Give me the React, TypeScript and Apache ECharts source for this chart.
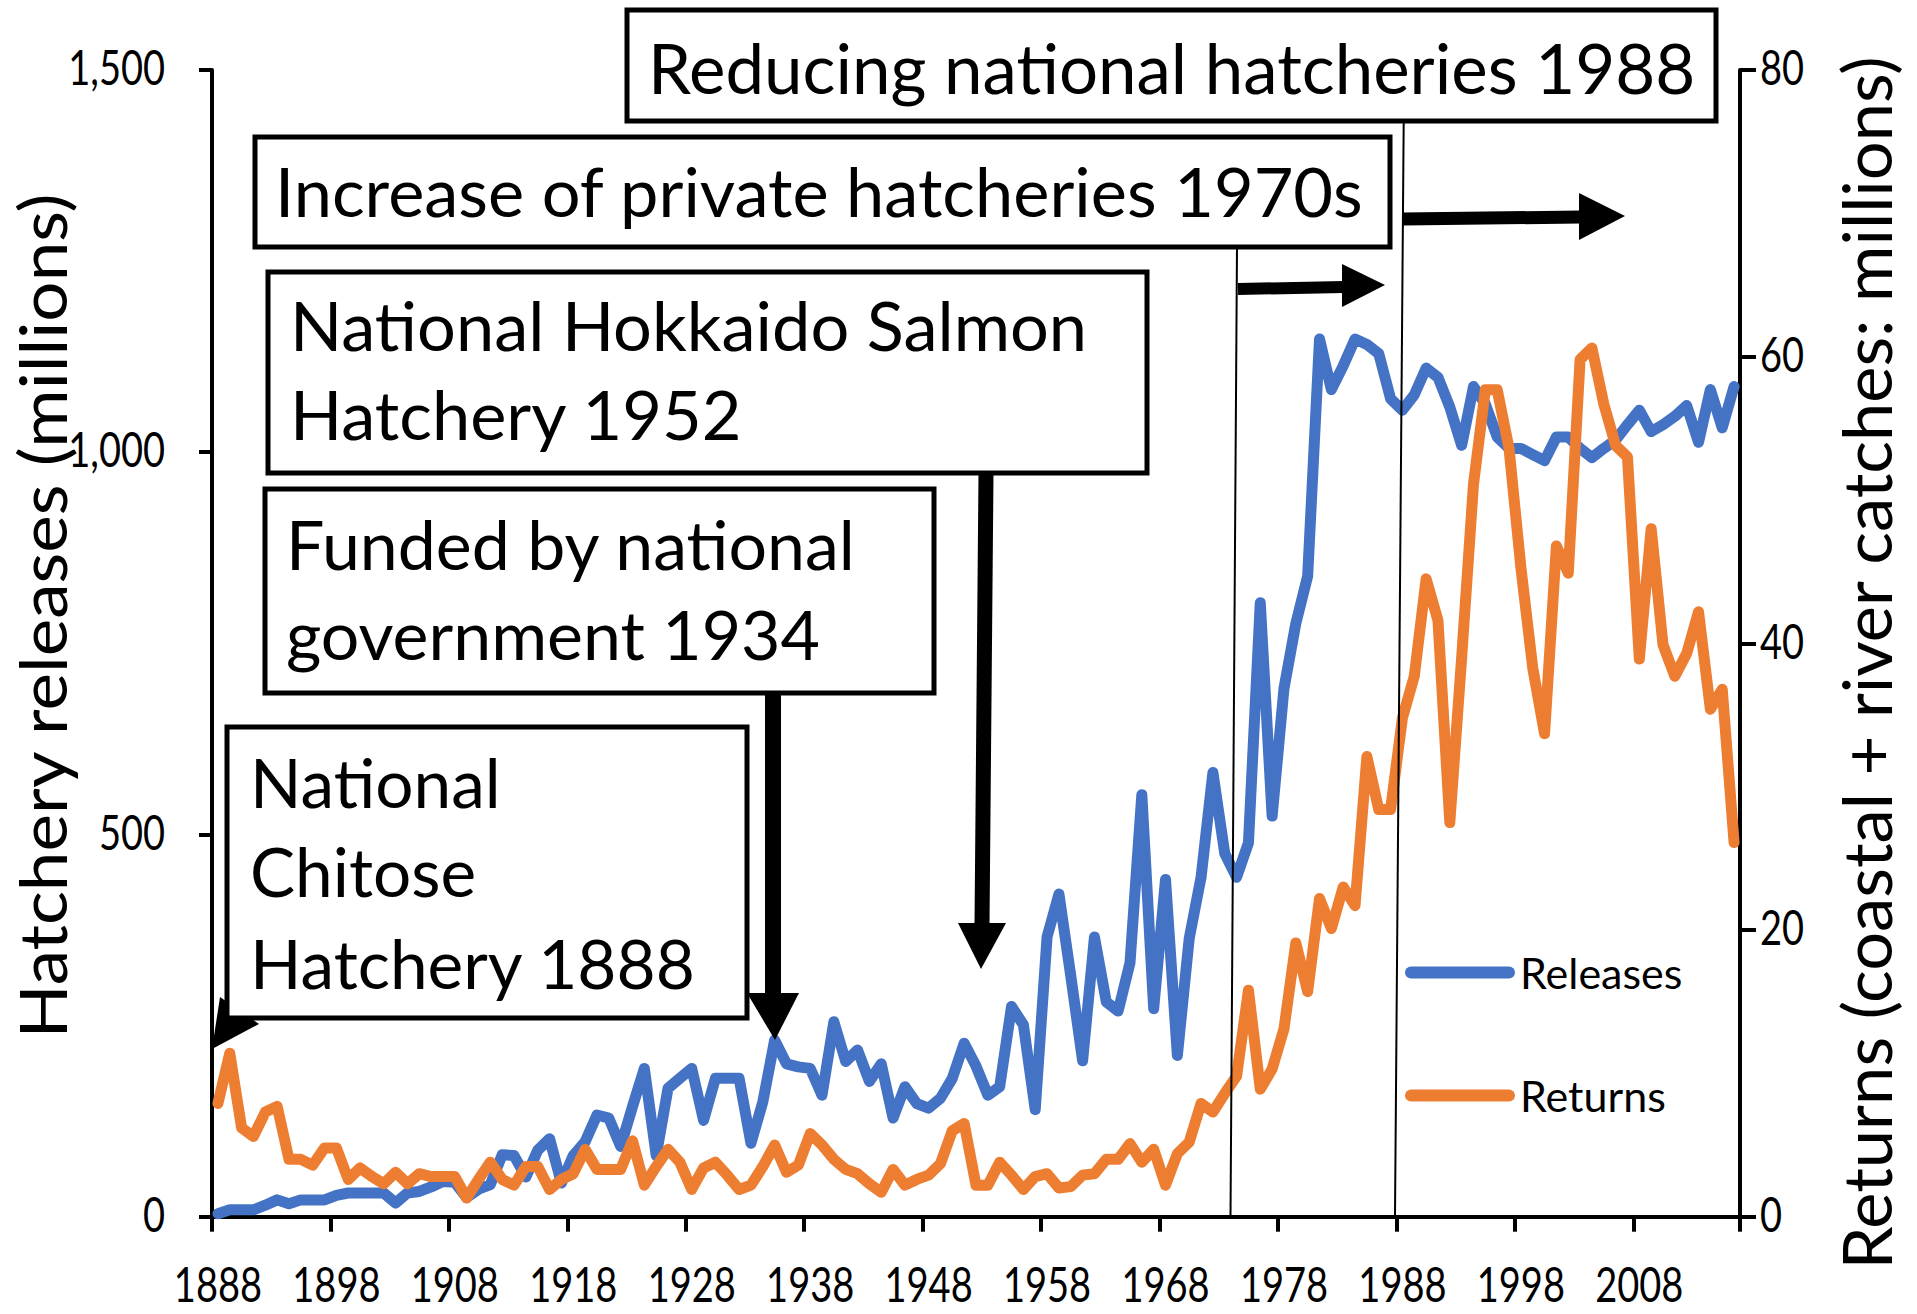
import React, { useEffect, useRef } from "react";
import * as echarts from "echarts";

// Categories: years 1888-2016
const years: string[] = [];
for (let y = 1888; y <= 2016; y++) years.push(String(y));

// Tick labels
const xTickLabels = ["1888", "1898", "1908", "1918", "1928", "1938", "1948", "1958", "1968", "1978", "1988", "1998", "2008"];
const leftTickValues = [0, 500, 1000, 1500];
const leftTickLabels = ["0", "500", "1,000", "1,500"];
const rightTickValues = [0, 20, 40, 60, 80];
const rightTickLabels = ["0", "20", "40", "60", "80"];

// Hatchery releases (millions) - left axis
const releases: number[] = [
  4, 9, 9, 9, 15, 22, 17, 22, 22, 22,
  28, 31, 31, 31, 31, 18, 31, 33, 39, 46,
  45, 25, 36, 42, 81, 80, 52, 87, 102, 44,
  80, 98, 133, 129, 92, 144, 194, 80, 168, 181,
  194, 126, 181, 181, 181, 96, 150, 231, 200, 196,
  194, 159, 255, 203, 218, 177, 200, 129, 170, 148,
  142, 155, 181, 227, 197, 159, 170, 275, 251, 140,
  366, 422, 315, 204, 366, 281, 269, 332, 552, 272,
  441, 211, 364, 444, 581, 475, 444, 489, 803, 524,
  691, 776, 838, 1148, 1082, 1113, 1148, 1141, 1129, 1070,
  1055, 1075, 1110, 1098, 1059, 1009, 1086, 1063, 1020, 1005,
  1005, 997, 989, 1020, 1020, 1005, 993, 1005, 1016, 1036,
  1055, 1027, 1036, 1047, 1061, 1013, 1082, 1032, 1086,
];

// Returns (coastal + river catches, millions) - right axis
const returns: number[] = [
  7.9, 11.4, 6.2, 5.6, 7.3, 7.7, 4.0, 4.0, 3.6, 4.8,
  4.8, 2.6, 3.4, 2.8, 2.3, 3.1, 2.3, 3.0, 2.8, 2.8,
  2.8, 1.3, 2.6, 3.8, 2.6, 2.2, 3.5, 3.5, 1.9, 2.6,
  3.0, 4.7, 3.3, 3.3, 3.3, 5.3, 2.2, 3.5, 4.7, 3.8,
  1.9, 3.4, 3.8, 2.9, 1.9, 2.2, 3.5, 5.0, 3.1, 3.6,
  5.8, 5.0, 4.0, 3.3, 3.0, 2.3, 1.7, 3.3, 2.2, 2.6,
  2.9, 3.7, 6.0, 6.5, 2.2, 2.2, 3.8, 2.9, 1.9, 2.8,
  3.0, 2.0, 2.1, 2.9, 3.0, 4.0, 4.0, 5.1, 3.8, 4.7,
  2.2, 4.4, 5.2, 7.9, 7.3, 8.6, 9.8, 15.8, 8.9, 10.3,
  13.1, 19.1, 15.7, 22.2, 20.1, 23.0, 21.7, 32.1, 28.4, 28.4,
  34.8, 37.7, 44.5, 41.6, 27.5, 39.0, 51.1, 57.7, 57.7, 53.6,
  45.3, 38.3, 33.7, 46.8, 44.9, 59.8, 60.6, 56.7, 53.8, 53.0,
  38.9, 48.0, 39.9, 37.7, 39.3, 42.2, 35.4, 36.8, 26.1,
];

const seriesNames = ["Releases", "Returns"];
const leftAxisTitle = "Hatchery releases (millions)";
const rightAxisTitle = "Returns (coastal + river catches: millions)";

const FONT = "Lato, 'Open Sans', sans-serif";
const TICK_SIZE = 38;
const TICK_SCALE_Y = 1.25;

const BLUE = "#4472C4";
const ORANGE = "#ED7D31";

type Box = { x: number; y: number; w: number; h: number; tx: number; size: number; lines: [string, number][] };

const boxes: Box[] = [
  { x: 627, y: 10, w: 1089, h: 111, tx: 648, size: 69, lines: [["Reducing national hatcheries 1988", 67]] },
  { x: 255, y: 137, w: 1135, h: 110, tx: 275, size: 68.5, lines: [["Increase of private hatcheries 1970s", 190]] },
  { x: 268, y: 272, w: 879, h: 201, tx: 290, size: 68.5, lines: [["National Hokkaido Salmon", 324], ["Hatchery 1952", 413]] },
  { x: 265, y: 489, w: 669, h: 204, tx: 286, size: 68, lines: [["Funded by national", 543], ["government 1934", 633]] },
  { x: 227, y: 727, w: 520, h: 291, tx: 250, size: 67.5, lines: [["National", 781], ["Chitose", 870], ["Hatchery 1888", 962]] },
];

function annotationGraphics(): any[] {
  const els: any[] = [];
  const black = "#000";
  els.push({ type: "line", z: 100, shape: { x1: 1237, y1: 247, x2: 1230.5, y2: 1216 }, style: { stroke: black, lineWidth: 2 } });
  els.push({ type: "line", z: 100, shape: { x1: 1403.7, y1: 121, x2: 1395, y2: 1216 }, style: { stroke: black, lineWidth: 2 } });
  els.push({ type: "line", z: 100, shape: { x1: 1238, y1: 289, x2: 1344, y2: 287 }, style: { stroke: black, lineWidth: 12 } });
  els.push({ type: "polygon", z: 100, shape: { points: [[1342, 264], [1342, 307], [1385, 285]] }, style: { fill: black } });
  els.push({ type: "line", z: 100, shape: { x1: 1403, y1: 219, x2: 1581, y2: 217 }, style: { stroke: black, lineWidth: 13 } });
  els.push({ type: "polygon", z: 100, shape: { points: [[1579, 193], [1579, 240], [1625, 216]] }, style: { fill: black } });
  els.push({ type: "line", z: 100, shape: { x1: 773, y1: 693, x2: 773, y2: 995 }, style: { stroke: black, lineWidth: 16 } });
  els.push({ type: "polygon", z: 100, shape: { points: [[747, 993], [799, 993], [775, 1040]] }, style: { fill: black } });
  els.push({ type: "line", z: 100, shape: { x1: 986, y1: 473, x2: 982, y2: 925 }, style: { stroke: black, lineWidth: 15 } });
  els.push({ type: "polygon", z: 100, shape: { points: [[958, 923], [1006, 923], [981, 969]] }, style: { fill: black } });
  els.push({ type: "polygon", z: 100, shape: { points: [[212, 1049], [220, 997], [259, 1024]] }, style: { fill: black } });
  for (const b of boxes) {
    els.push({
      type: "rect", z: 110,
      shape: { x: b.x, y: b.y, width: b.w, height: b.h },
      style: { fill: "#fff", stroke: black, lineWidth: 5 },
    });
    for (const [t, ly] of b.lines) {
      els.push({
        type: "text", z: 111, x: b.tx, y: ly,
        style: { text: t, fill: black, fontSize: b.size, fontFamily: FONT, textAlign: "left", textVerticalAlign: "middle" },
      });
    }
  }
  els.push({
    type: "text", z: 111, x: 41, y: 616, rotation: Math.PI / 2, scaleX: 1.077,
    style: { text: leftAxisTitle, fill: black, fontSize: 66, fontFamily: FONT, textAlign: "center", textVerticalAlign: "middle" },
  });
  els.push({
    type: "text", z: 111, x: 1866, y: 663, rotation: Math.PI / 2, scaleX: 1.01,
    style: { text: rightAxisTitle, fill: black, fontSize: 68, fontFamily: FONT, textAlign: "center", textVerticalAlign: "middle" },
  });
  return els;
}

function tickText(text: string, x: number, y: number, align: string): any {
  return {
    type: "text", z: 50, x, y, scaleY: TICK_SCALE_Y,
    style: { text, fill: "#000", fontSize: TICK_SIZE, fontFamily: FONT, textAlign: align, textVerticalAlign: "middle" },
  };
}

export default function App() {
  const ref = useRef<HTMLDivElement>(null);
  useEffect(() => {
    if (!ref.current) return;
    const chart = echarts.init(ref.current, null, { renderer: "svg" });
    const axisLine = { show: true, lineStyle: { color: "#000", width: 4 } };
    const tickStyle = { color: "#000", width: 4 };
    chart.setOption({
      animation: false,
      backgroundColor: "#fff",
      grid: { left: 212, right: 177, top: 70, bottom: 97.3, containLabel: false },
      legend: {
        orient: "vertical",
        left: 1400,
        top: 944,
        itemWidth: 110,
        itemHeight: 12,
        itemGap: 76,
        icon: "path://M6,0 H104 A6,6 0 0 1 104,12 H6 A6,6 0 0 1 6,0 Z",
        textStyle: { fontFamily: FONT, fontSize: 43, color: "#000", lineHeight: 47 },
        data: seriesNames,
      },
      xAxis: {
        type: "category",
        data: years,
        boundaryGap: true,
        axisLine,
        axisTick: { show: true, interval: 9, length: 15, lineStyle: tickStyle },
        axisLabel: { show: false, interval: 9 },
        splitLine: { show: false },
      },
      yAxis: [
        {
          type: "value", min: 0, max: 1500, interval: 500, position: "left",
          axisLine, axisTick: { show: true, length: 13, lineStyle: tickStyle },
          splitLine: { show: false },
          axisLabel: { show: false },
        },
        {
          type: "value", min: 0, max: 80, interval: 20, position: "right",
          axisLine, axisTick: { show: true, length: 16, lineStyle: tickStyle },
          splitLine: { show: false },
          axisLabel: { show: false },
        },
      ],
      series: [
        {
          name: seriesNames[0], type: "line", yAxisIndex: 0, data: releases,
          showSymbol: false, symbol: "none", color: BLUE,
          lineStyle: { width: 11, color: BLUE, cap: "round", join: "round" },
          z: 2,
        },
        {
          name: seriesNames[1], type: "line", yAxisIndex: 1, data: returns,
          showSymbol: false, symbol: "none", color: ORANGE,
          lineStyle: { width: 11, color: ORANGE, cap: "round", join: "round" },
          z: 3,
        },
      ],
    });

    // Tick labels placed through the library's own axis scales
    const tickEls: any[] = [];
    for (const lbl of xTickLabels) {
      const px = chart.convertToPixel({ xAxisIndex: 0 }, lbl) as number;
      tickEls.push(tickText(lbl, px, 1284, "center"));
    }
    leftTickValues.forEach((v, i) => {
      const py = chart.convertToPixel({ yAxisIndex: 0 }, v) as number;
      tickEls.push(tickText(leftTickLabels[i], 165, py - 3, "right"));
    });
    rightTickValues.forEach((v, i) => {
      const py = chart.convertToPixel({ yAxisIndex: 1 }, v) as number;
      tickEls.push(tickText(rightTickLabels[i], 1760, py - 3, "left"));
    });

    chart.setOption({ graphic: { elements: [...tickEls, ...annotationGraphics()] } });
    return () => chart.dispose();
  }, []);
  return (
    <div
      ref={ref}
      style={{ position: "absolute", left: 0, top: 0, width: 1917, height: 1314, background: "#fff" }}
    />
  );
}
